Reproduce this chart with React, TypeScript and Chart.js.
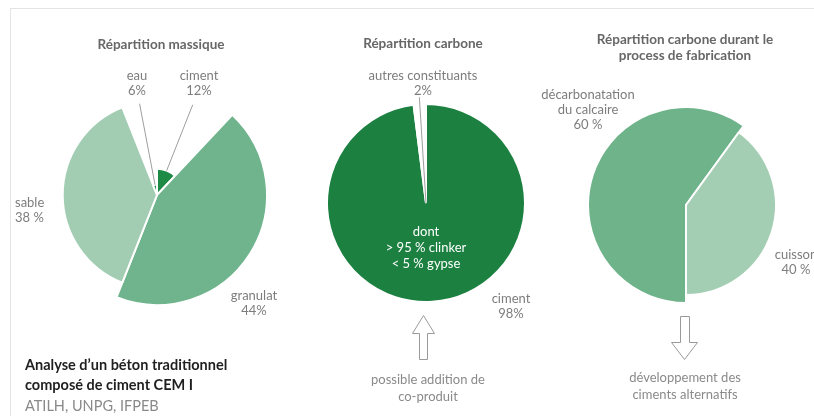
import React, { useEffect, useRef } from 'react';
import { Chart, registerables } from 'chart.js';

Chart.register(...registerables);

// ---------- data ----------
const massLabels = ['ciment', 'granulat', 'sable', 'eau'];
const massShares = [12, 44, 38, 6];

const carbonLabels = ['ciment', 'autres constituants'];
const carbonShares = [98, 2];

const processLabels = ['décarbonatation du calcaire', 'cuisson'];
const processShares = [60, 40];

// ---------- styles ----------
const FONT = 'Lato, "Noto Sans", "DejaVu Sans", sans-serif';
const massColors = ['#1d8a45', '#6fb48c', '#a3cdb2', '#1d8a45'];
const carbonColors = ['#1b8040', '#ffffff'];
const processColors = ['#6fb38b', '#a4ceb3'];
const processRadiusFactors = [1, 0.918];

const pct = (v: number, spaced = false) => `${v}${spaced ? ' ' : ''}%`;

function leaderLines(lines: { index: number; length: number }[], fromCenter: boolean) {
  return {
    id: 'leaderLines',
    afterDatasetsDraw(chart: any) {
      const meta = chart.getDatasetMeta(0);
      const ctx = chart.ctx;
      ctx.save();
      ctx.strokeStyle = '#9e9e9e';
      ctx.lineWidth = 1;
      for (const l of lines) {
        const arc = meta.data[l.index];
        const { x, y, startAngle, endAngle, outerRadius } = arc;
        const mid = (startAngle + endAngle) / 2;
        const r0 = fromCenter ? 0 : outerRadius;
        ctx.beginPath();
        ctx.moveTo(x + Math.cos(mid) * r0, y + Math.sin(mid) * r0);
        ctx.lineTo(x + Math.cos(mid) * l.length, y + Math.sin(mid) * l.length);
        ctx.stroke();
      }
      ctx.restore();
    },
  };
}

function radiusFactors(factors: number[]) {
  return {
    id: 'radiusFactors',
    afterDatasetsUpdate(chart: any) {
      const meta = chart.getDatasetMeta(0);
      meta.data.forEach((arc: any, i: number) => {
        arc.outerRadius = arc.outerRadius * (factors[i] ?? 1);
      });
    },
  };
}

const baseOptions = {
  responsive: false,
  animation: false as const,
  events: [] as any[],
  plugins: { legend: { display: false }, tooltip: { enabled: false } },
};

function ChartCanvas({ left, top, width, height, makeConfig }: any) {
  const ref = useRef<HTMLCanvasElement>(null);
  useEffect(() => {
    const chart = new Chart(ref.current as HTMLCanvasElement, makeConfig());
    return () => chart.destroy();
  }, []);
  return (
    <canvas
      ref={ref}
      width={width}
      height={height}
      style={{ position: 'absolute', left, top, width, height }}
    />
  );
}

function Txt({ x, y, lines, align = 'center', size = 13, color = '#7d7d7d', weight = 400, lh = 15 }: any) {
  const tx = align === 'center' ? '-50%' : align === 'right' ? '-100%' : '0';
  return (
    <div
      style={{
        position: 'absolute',
        left: x,
        top: y,
        transform: `translate(${tx}, -50%)`,
        textAlign: align,
        whiteSpace: 'nowrap',
        fontFamily: FONT,
        fontSize: size,
        color,
        fontWeight: weight,
        lineHeight: lh + 'px',
      }}
    >
      {lines.map((l: string, i: number) => (
        <div key={i}>{l}</div>
      ))}
    </div>
  );
}

const massConfig = () => ({
  type: 'polarArea',
  data: {
    labels: massLabels,
    datasets: [
      {
        data: massShares,
        backgroundColor: massColors,
        borderColor: '#ffffff',
        borderWidth: 2,
        angle: (c: any) => massShares[c.dataIndex] * 3.6,
      },
    ],
  },
  options: {
    ...baseOptions,
    scales: {
      r: {
        min: 2,
        max: 44,
        startAngle: 0,
        ticks: { display: false },
        grid: { display: false },
        angleLines: { display: false },
        pointLabels: { display: false },
      },
    },
  },
  plugins: [leaderLines([{ index: 3, length: 93 }, { index: 0, length: 97 }], false)],
});

const carbonConfig = () => ({
  type: 'pie',
  data: {
    labels: carbonLabels,
    datasets: [
      {
        data: carbonShares,
        backgroundColor: carbonColors,
        borderColor: '#ffffff',
        borderWidth: 2,
      },
    ],
  },
  options: { ...baseOptions, layout: { padding: { top: 10 } } },
  plugins: [leaderLines([{ index: 1, length: 106 }], true)],
});

const processConfig = () => ({
  type: 'pie',
  data: {
    labels: processLabels,
    datasets: [
      {
        data: processShares,
        backgroundColor: processColors,
        borderColor: '#ffffff',
        borderWidth: 2,
        rotation: 180,
      },
    ],
  },
  options: { ...baseOptions, rotation: 180 },
  plugins: [radiusFactors(processRadiusFactors)],
});

export default function App() {
  const titleStyle = { size: 13.5, color: '#676767', weight: 700, lh: 16 };
  return (
    <div
      style={{
        position: 'absolute',
        left: 0,
        top: 0,
        width: 814,
        height: 416,
        overflow: 'hidden',
        background: '#ffffff',
      }}
    >
      <div
        style={{
          position: 'absolute',
          left: 10,
          top: 8,
          width: 900,
          height: 500,
          borderTop: '1px solid #e4e4e4',
          borderLeft: '1px solid #e4e4e4',
        }}
      />

      <ChartCanvas left={47} top={85} width={220} height={220} makeConfig={massConfig} />
      <ChartCanvas left={326} top={93} width={200} height={210} makeConfig={carbonConfig} />
      <ChartCanvas left={587} top={106} width={198} height={198} makeConfig={processConfig} />

      <svg
        width={814}
        height={416}
        style={{ position: 'absolute', left: 0, top: 0, pointerEvents: 'none' }}
      >
        <path
          d="M423.5,315.5 L434.5,333.5 L427.5,333.5 L427.5,359.5 L419.5,359.5 L419.5,333.5 L412.5,333.5 Z"
          fill="#ffffff"
          stroke="#9a9a9a"
          strokeWidth={1}
        />
        <path
          d="M680.5,316.5 L689.5,316.5 L689.5,342.5 L697.5,342.5 L684.5,359.5 L671.5,342.5 L680.5,342.5 Z"
          fill="#ffffff"
          stroke="#9a9a9a"
          strokeWidth={1}
        />
      </svg>

      {/* titles */}
      <Txt x={161} y={44} lines={['Répartition massique']} {...titleStyle} />
      <Txt x={423} y={43} lines={['Répartition carbone']} {...titleStyle} />
      <Txt
        x={685}
        y={47}
        lines={['Répartition carbone durant le', 'process de fabrication']}
        {...titleStyle}
      />

      {/* pie 1 labels */}
      <Txt x={137} y={83} lines={[massLabels[3], pct(massShares[3])]} />
      <Txt x={199} y={83} lines={[massLabels[0], pct(massShares[0])]} />
      <Txt x={15} y={210} align="left" lines={[massLabels[2], pct(massShares[2], true)]} />
      <Txt x={254} y={303} lines={[massLabels[1], pct(massShares[1])]} />

      {/* pie 2 labels */}
      <Txt x={423} y={83} lines={[carbonLabels[1], pct(carbonShares[1])]} />
      <Txt
        x={426}
        y={247}
        lines={['dont', '> 95 % clinker', '< 5 % gypse']}
        color="#ffffff"
        lh={16}
      />
      <Txt x={511} y={306} lines={[carbonLabels[0], pct(carbonShares[0])]} />

      {/* pie 3 labels */}
      <Txt x={588} y={109} lines={['décarbonatation', 'du calcaire', pct(processShares[0], true)]} />
      <Txt x={796} y={262} lines={[processLabels[1], pct(processShares[1], true)]} />

      {/* bottom notes */}
      <Txt x={428} y={388} lines={['possible addition de', 'co-produit']} size={13} color="#8a8a8a" lh={17} />
      <Txt x={685} y={386} lines={['développement des', 'ciments alternatifs']} size={13} color="#8a8a8a" lh={17} />

      <Txt x={25} y={364} align="left" lines={['Analyse d’un béton traditionnel']} size={14.5} color="#1f1f1f" weight={700} />
      <Txt x={25} y={384} align="left" lines={['composé de ciment CEM I']} size={14.5} color="#1f1f1f" weight={700} />
      <Txt x={25} y={405} align="left" lines={['ATILH, UNPG, IFPEB']} size={14.5} color="#8a8a8a" />
    </div>
  );
}
